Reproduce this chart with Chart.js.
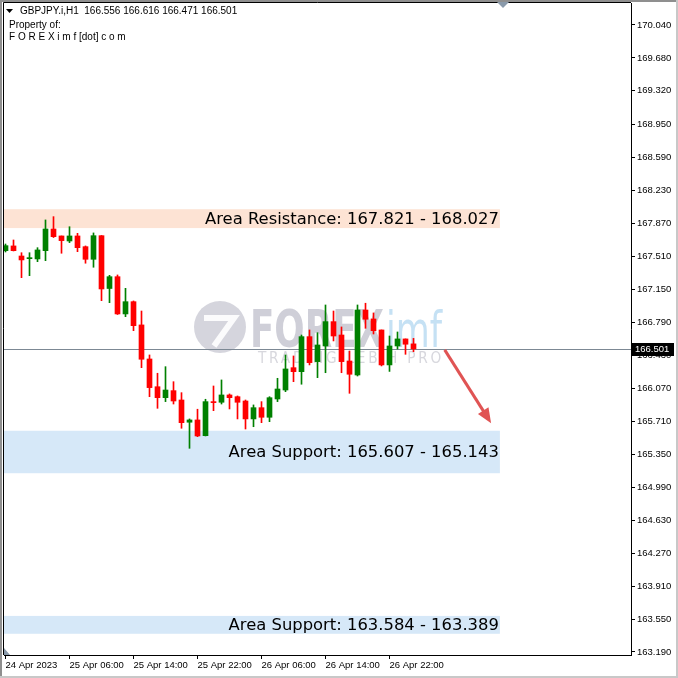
<!DOCTYPE html>
<html>
<head>
<meta charset="utf-8">
<script src="https://cdn.jsdelivr.net/npm/chart.js@4.4.0/dist/chart.umd.min.js"></script>
<style>
  html, body { margin: 0; padding: 0; background: #fff; }
  #wrap { width: 678px; height: 678px; }
</style>
</head>
<body>
<div id="wrap"><canvas id="chart" width="678" height="678"></canvas></div>
<script>
// GBPJPY H1 candles, 24 Apr 22:00 -> 27 Apr 01:00
const opens  = [167.574, 167.626, 167.516, 167.487, 167.484, 167.574, 167.811, 167.735, 167.680, 167.735,
                167.618, 167.480, 167.738, 167.161, 167.290, 166.883, 167.017, 166.763, 166.391, 166.088,
                165.968, 166.045, 165.943, 165.700, 165.725, 165.553, 165.925, 165.918, 165.998, 165.979,
                165.932, 165.736, 165.859, 165.754, 165.954, 166.052, 166.296, 166.252, 166.635, 166.362,
                166.533, 166.799, 166.653, 166.369, 166.216, 166.926, 166.828, 166.708, 166.326, 166.533,
                166.610, 166.556];
const highs  = [167.647, 167.691, 167.552, 167.552, 167.607, 167.910, 167.946, 167.735, 167.836, 167.764,
                167.626, 167.768, 167.740, 167.305, 167.309, 167.163, 167.025, 166.915, 166.435, 166.235,
                166.307, 166.143, 166.023, 165.736, 165.842, 165.951, 166.096, 166.162, 166.009, 165.987,
                165.943, 165.889, 165.925, 165.979, 166.180, 166.435, 166.424, 166.653, 166.708, 166.678,
                166.981, 166.915, 166.741, 166.478, 166.981, 167.000, 166.894, 166.708, 166.642, 166.686,
                166.610, 166.616];
const lows   = [167.560, 167.571, 167.279, 167.301, 167.454, 167.465, 167.718, 167.546, 167.662, 167.563,
                167.437, 167.393, 167.028, 167.006, 166.877, 166.853, 166.700, 166.296, 165.979, 165.852,
                165.925, 165.899, 165.634, 165.415, 165.542, 165.550, 165.826, 165.899, 165.845, 165.736,
                165.626, 165.651, 165.695, 165.706, 165.925, 166.034, 166.143, 166.115, 166.326, 166.187,
                166.241, 166.588, 166.241, 166.016, 166.205, 166.726, 166.664, 166.315, 166.255, 166.500,
                166.442, 166.471];
const closes = [167.629, 167.574, 167.473, 167.494, 167.582, 167.811, 167.727, 167.684, 167.735, 167.607,
                167.480, 167.738, 167.156, 167.290, 166.883, 167.017, 166.755, 166.388, 166.078, 165.968,
                166.052, 165.932, 165.695, 165.725, 165.550, 165.925, 165.914, 165.998, 165.968, 165.918,
                165.736, 165.859, 165.754, 165.968, 166.063, 166.282, 166.252, 166.635, 166.351, 166.544,
                166.799, 166.642, 166.362, 166.224, 166.926, 166.825, 166.700, 166.326, 166.533, 166.610,
                166.552, 166.501];

const timeLabels = ['24 Apr 2023', '25 Apr 06:00', '25 Apr 14:00', '25 Apr 22:00', '26 Apr 06:00', '26 Apr 14:00', '26 Apr 22:00'];
const timeIndex  = [0, 8, 16, 24, 32, 40, 48];

const priceTicks = [170.040, 169.680, 169.320, 168.950, 168.590, 168.230, 167.870, 167.510, 167.150, 166.790,
                    166.430, 166.070, 165.710, 165.350, 164.990, 164.630, 164.270, 163.910, 163.550, 163.190];

const zoneLow  = [167.821, 165.143, 163.389];
const zoneHigh = [168.027, 165.607, 163.584];
const zoneText = ['Area Resistance: 167.821 - 168.027', 'Area Support: 165.607 - 165.143', 'Area Support: 163.584 - 163.389'];
const zoneEnd = 61.8;

const arrowFrom = [54.9, 166.49];
const arrowTo   = [60.7, 165.69];

const lastPrice = 166.501;
const header = 'GBPJPY.i,H1  166.556 166.616 166.471 166.501';

const UP = '#008000', DOWN = '#ff0000';
const zoneFill = ['#fde3d4', '#d6e8f8', '#d6e8f8'];
const candleColors = closes.map((c, i) => c >= opens[i] ? UP : DOWN);

const overlay = {
  id: 'overlay',
  beforeDatasetsDraw(chart) {
    const { ctx, chartArea: a, scales: { x, y } } = chart;
    ctx.save();
    ctx.beginPath();
    ctx.rect(a.left, a.top, a.right - a.left, a.bottom - a.top);
    ctx.clip();

    // zones
    const xr = x.getPixelForValue(zoneEnd);
    zoneLow.forEach((lo, i) => {
      const y1 = y.getPixelForValue(zoneHigh[i]);
      const y2 = y.getPixelForValue(lo);
      ctx.fillStyle = zoneFill[i];
      ctx.fillRect(a.left, y1, xr - a.left, y2 - y1);
    });

    // watermark
    ctx.fillStyle = 'rgba(185,185,198,0.6)';
    ctx.beginPath();
    ctx.arc(220, 327, 26, 0, Math.PI * 2);
    ctx.fill();
    ctx.strokeStyle = 'rgba(255,255,255,0.9)';
    ctx.lineWidth = 6;
    ctx.beginPath();
    ctx.moveTo(204, 318); ctx.lineTo(234, 318); ctx.lineTo(214, 346);
    ctx.stroke();
    ctx.font = 'bold 51px "DejaVu Sans"';
    ctx.textBaseline = 'alphabetic';
    ctx.textAlign = 'left';
    ctx.fillStyle = 'rgba(175,175,190,0.6)';
    ctx.fillText('FOREX', 250, 347, 134);
    ctx.font = '50px "DejaVu Sans"';
    ctx.fillStyle = 'rgba(150,200,235,0.55)';
    ctx.fillText('imf', 386, 347, 56);
    ctx.font = '15px "DejaVu Sans"';
    ctx.letterSpacing = '3px';
    ctx.fillStyle = 'rgba(175,175,188,0.5)';
    ctx.fillText('TRADING LEBIH PRO', 258, 363, 186);
    ctx.letterSpacing = '0px';

    // current price line
    const py = Math.round(y.getPixelForValue(lastPrice)) + 0.5;
    ctx.strokeStyle = '#7c8894';
    ctx.lineWidth = 1;
    ctx.beginPath();
    ctx.moveTo(a.left, py); ctx.lineTo(a.right, py);
    ctx.stroke();
    ctx.restore();
  },
  afterDatasetsDraw(chart) {
    const { ctx, chartArea: a, scales: { x, y } } = chart;
    ctx.save();

    // zone labels
    const xr = x.getPixelForValue(zoneEnd);
    ctx.font = '16.4px "DejaVu Sans"';
    ctx.fillStyle = '#000';
    ctx.textAlign = 'right';
    ctx.textBaseline = 'middle';
    zoneLow.forEach((lo, i) => {
      const yc = (y.getPixelForValue(lo) + y.getPixelForValue(zoneHigh[i])) / 2;
      ctx.fillText(zoneText[i], xr - 1, yc + 1);
    });

    // arrow
    const x1 = x.getPixelForValue(arrowFrom[0]), y1 = y.getPixelForValue(arrowFrom[1]);
    const x2 = x.getPixelForValue(arrowTo[0]), y2 = y.getPixelForValue(arrowTo[1]);
    const ang = Math.atan2(y2 - y1, x2 - x1);
    const head = 16;
    ctx.strokeStyle = '#e05454';
    ctx.fillStyle = '#e05454';
    ctx.lineWidth = 3;
    ctx.beginPath();
    ctx.moveTo(x1, y1);
    ctx.lineTo(x2 - Math.cos(ang) * head * 0.8, y2 - Math.sin(ang) * head * 0.8);
    ctx.stroke();
    ctx.beginPath();
    ctx.moveTo(x2, y2);
    ctx.lineTo(x2 - head * Math.cos(ang - 0.4), y2 - head * Math.sin(ang - 0.4));
    ctx.lineTo(x2 - head * Math.cos(ang + 0.4), y2 - head * Math.sin(ang + 0.4));
    ctx.closePath();
    ctx.fill();

    // header text
    ctx.textAlign = 'left';
    ctx.textBaseline = 'middle';
    ctx.fillStyle = '#000';
    ctx.beginPath();
    ctx.moveTo(6, 9); ctx.lineTo(13, 9); ctx.lineTo(9.5, 13);
    ctx.closePath();
    ctx.fill();
    ctx.font = '10px "Liberation Sans"';
    ctx.fillText(header, 20, 11);
    ctx.fillText('Property of:', 9, 25);
    ctx.fillText('F O R E X i m f [dot] c o m', 9, 37);

    // price box on axis
    const py = Math.round(y.getPixelForValue(lastPrice));
    ctx.fillStyle = '#000';
    ctx.fillRect(632, py - 6, 42, 13);
    ctx.fillStyle = '#fff';
    ctx.font = '9.5px "Liberation Sans"';
    ctx.fillText(lastPrice.toFixed(3), 635, py + 0.5);

    // frame
    ctx.strokeStyle = '#000';
    ctx.lineWidth = 1;
    ctx.beginPath();
    ctx.moveTo(a.left - 0.5, a.bottom); ctx.lineTo(a.left - 0.5, a.top - 0.5); ctx.lineTo(a.right, a.top - 0.5);
    ctx.stroke();
    ctx.fillStyle = '#8f8f8f';
    ctx.fillRect(0, 0, 678, 2);
    ctx.fillRect(0, 0, 2, 678);
    ctx.fillStyle = '#c8c8c8';
    ctx.fillRect(676, 0, 2, 678);
    ctx.fillRect(0, 676, 678, 2);
    ctx.fillStyle = '#8a9aab';
    ctx.beginPath();
    ctx.moveTo(497, 2); ctx.lineTo(509, 2); ctx.lineTo(503, 8);
    ctx.closePath();
    ctx.fill();
    ctx.beginPath();
    ctx.moveTo(4, 648); ctx.lineTo(4, 655); ctx.lineTo(10, 655);
    ctx.closePath();
    ctx.fill();
    ctx.restore();
  }
};

const ctx = document.getElementById('chart');

const chart = new Chart(ctx, {
  type: 'bar',
  data: {
    datasets: [{
      label: 'body',
      data: opens.map((o, i) => ({ x: i, y: [o, closes[i]] })),
      backgroundColor: candleColors,
      barThickness: 5,
      minBarLength: 1,
      grouped: false
    }, {
      label: 'wick',
      data: lows.map((l, i) => ({ x: i, y: [l, highs[i]] })),
      backgroundColor: candleColors,
      barThickness: 1,
      grouped: false
    }]
  },
  options: {
    responsive: false,
    animation: false,
    events: [],
    layout: { padding: { left: 4, top: 3, right: 0, bottom: 0 } },
    plugins: { legend: { display: false }, tooltip: { enabled: false } },
    scales: {
      x: {
        type: 'linear',
        min: -0.1875,
        max: 78.1875,
        offset: false,
        grid: { offset: false, drawOnChartArea: false, drawTicks: true, tickLength: 4, color: '#000' },
        border: { display: true, color: '#000' },
        afterBuildTicks: s => { s.ticks = timeIndex.map(v => ({ value: v })); },
        afterFit: s => {
          s.height = 23;
          s.paddingLeft = 0; s.paddingRight = 0; s.paddingTop = 0; s.paddingBottom = 0;
        },
        ticks: {
          autoSkip: false,
          maxRotation: 0,
          align: 'start',
          padding: 1,
          color: '#000',
          font: { family: 'Liberation Sans', size: 9.5 },
          callback: v => timeLabels[timeIndex.indexOf(v)]
        }
      },
      y: {
        position: 'right',
        min: 163.157,
        max: 170.28,
        beginAtZero: false,
        grid: { drawOnChartArea: false, drawTicks: true, tickLength: 4, color: '#000' },
        border: { display: true, color: '#000' },
        afterBuildTicks: s => { s.ticks = priceTicks.map(v => ({ value: v })); },
        afterFit: s => {
          s.width = 47;
          s.paddingLeft = 0; s.paddingRight = 0; s.paddingTop = 0; s.paddingBottom = 0;
        },
        ticks: {
          autoSkip: false,
          padding: 2,
          color: '#000',
          font: { family: 'Liberation Sans', size: 9.5 },
          callback: v => v.toFixed(3)
        }
      }
    }
  },
  plugins: [overlay]
});
</script>
</body>
</html>
